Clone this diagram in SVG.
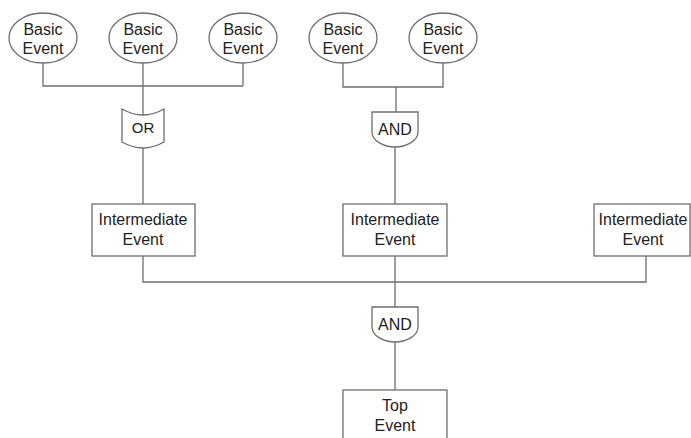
<svg xmlns="http://www.w3.org/2000/svg" width="691" height="438" viewBox="0 0 691 438">
<style>
.shape{fill:#fff;stroke:#6e6e6e;stroke-width:1.3}
.wire{fill:none;stroke:#6e6e6e;stroke-width:1.3}
text{font-family:"Liberation Sans",Arial,sans-serif;font-size:16px;fill:#222;text-anchor:middle}
.g{font-size:15px}
</style>
<rect width="691" height="438" fill="#fff"/>
<g id="connectors">
<path class="wire" d="M43,63 V86 H243 M143,63 V115 M243,63 V86"/>
<path class="wire" d="M343,63 V87 H443 V63 M396,87 V112"/>
<path class="wire" d="M143,148 V204"/>
<path class="wire" d="M395,147 V204"/>
<path class="wire" d="M143,256 V282 H646 V256 M395,256 V307"/>
<path class="wire" d="M395,342 V390"/>
</g>
<g id="basic1"><ellipse class="shape" cx="43" cy="38" rx="34" ry="25"/><text x="43" y="35">Basic</text><text x="43" y="54">Event</text></g>
<g id="basic2"><ellipse class="shape" cx="143" cy="38" rx="34" ry="25"/><text x="143" y="35">Basic</text><text x="143" y="54">Event</text></g>
<g id="basic3"><ellipse class="shape" cx="243" cy="38" rx="34" ry="25"/><text x="243" y="35">Basic</text><text x="243" y="54">Event</text></g>
<g id="basic4"><ellipse class="shape" cx="343" cy="38" rx="34" ry="25"/><text x="343" y="35">Basic</text><text x="343" y="54">Event</text></g>
<g id="basic5"><ellipse class="shape" cx="443" cy="38" rx="34" ry="25"/><text x="443" y="35">Basic</text><text x="443" y="54">Event</text></g>
<g id="or1"><path class="shape" d="M122,109 Q143,121 164,109 L164,142 Q143,154 122,142 Z"/><text class="g" x="143" y="133">OR</text></g>
<g id="and1"><path class="shape" d="M372,112 H418 V132 C418,141 406,147 395,147 C384,147 372,141 372,132 Z"/><text x="395" y="135">AND</text></g>
<g id="inter1"><rect class="shape" x="92" y="204" width="103" height="52"/><text x="143" y="225">Intermediate</text><text x="143" y="245">Event</text></g>
<g id="inter2"><rect class="shape" x="343" y="204" width="104" height="52"/><text x="395" y="225">Intermediate</text><text x="395" y="245">Event</text></g>
<g id="inter3"><rect class="shape" x="594" y="204" width="96" height="52"/><text x="643" y="225">Intermediate</text><text x="643" y="245">Event</text></g>
<g id="and2"><path class="shape" d="M372,307 H418 V327 C418,336 406,342 395,342 C384,342 372,336 372,327 Z"/><text x="395" y="330">AND</text></g>
<g id="top"><rect class="shape" x="343" y="390" width="104" height="60"/><text x="395" y="411">Top</text><text x="395" y="431">Event</text></g>
</svg>
